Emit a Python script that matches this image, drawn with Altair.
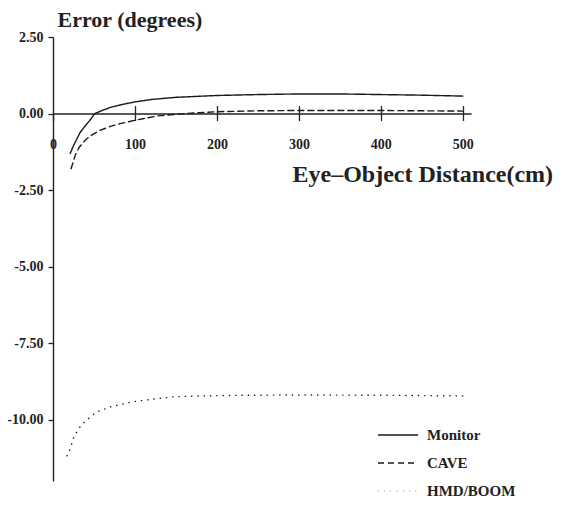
import altair as alt
import pandas as pd

series_names = ["Monitor", "CAVE", "HMD/BOOM"]

monitor_x = [21, 25, 33, 40, 45, 51, 60, 70, 85, 100, 120, 150, 200, 250, 300, 350, 400, 450, 500]
monitor_y = [-1.3, -1.05, -0.62, -0.38, -0.22, 0.0, 0.1, 0.2, 0.3, 0.38, 0.46, 0.53, 0.59, 0.62, 0.64, 0.64, 0.62, 0.6, 0.57]

cave_x = [22, 25, 27, 32, 39, 45, 57, 70, 82, 100, 127, 160, 200, 250, 300, 350, 400, 450, 500]
cave_y = [-1.8, -1.55, -1.37, -1.1, -0.88, -0.74, -0.55, -0.42, -0.33, -0.22, -0.08, 0.0, 0.06, 0.09, 0.1, 0.1, 0.1, 0.09, 0.08]

hmd_x = [17, 21, 25, 29, 33, 40, 46, 53, 60, 70, 82, 98, 127, 147, 180, 236, 300, 400, 500]
hmd_y = [-11.18, -10.95, -10.6, -10.4, -10.23, -10.03, -9.9, -9.74, -9.68, -9.58, -9.5, -9.41, -9.31, -9.25, -9.22, -9.2, -9.19, -9.2, -9.22]

x_ticks = [0, 100, 200, 300, 400, 500]
y_ticks = [2.5, 0, -2.5, -5, -7.5, -10]

rows = []
for name, xs, ys in zip(series_names, [monitor_x, cave_x, hmd_x], [monitor_y, cave_y, hmd_y]):
    for i, (a, b) in enumerate(zip(xs, ys)):
        rows.append({"series": name, "x": a, "y": b, "order": i})
df = pd.DataFrame(rows)

W, H = 418, 444
YMIN, YMAX = -12, 2.5
zero_px = H * (YMAX - 0) / (YMAX - YMIN)

FONT = "Liberation Serif"

xscale = alt.Scale(domain=[0, 510], nice=False, zero=False)
yscale = alt.Scale(domain=[YMIN, YMAX], nice=False, zero=False)

lines = alt.Chart(df).mark_line(strokeWidth=1.4, strokeCap="round", color="#1a1a1a").encode(
    x=alt.X("x:Q", scale=xscale, axis=alt.Axis(
        orient="bottom", offset=-(H - zero_px), values=x_ticks,
        labelExpr="(datum.value == 0 ? '\u2002\u2002' : '\u2002') + format(datum.value, 'd')",
        grid=False, domain=True, domainColor="#222", domainWidth=1.4,
        ticks=True, tickSize=7, tickColor="#222", tickWidth=1.3,
        labelFont=FONT, labelFontWeight="bold", labelFontSize=14, labelColor="#222",
        labelPadding=17, labelFlush=False,
        title="Eye\u2013Object Distance(cm)", titleFont=FONT, titleFontWeight="bold",
        titleFontSize=24, titleColor="#222", titleX=239, titleY=68,
        titleAlign="left", titleBaseline="alphabetic")),
    y=alt.Y("y:Q", scale=yscale, axis=alt.Axis(
        values=y_ticks, grid=False, domain=True, domainColor="#222", domainWidth=1.4,
        tickSize=5, tickColor="#222", tickWidth=1.3,
        labelExpr="datum.value < 0 ? '-' + format(-datum.value, '.2f') : format(datum.value, '.2f')",
        labelFont=FONT, labelFontWeight="bold", labelFontSize=14, labelColor="#222",
        labelPadding=5, labelFlush=False,
        title="Error (degrees)", titleFont=FONT, titleFontWeight="bold", titleFontSize=22,
        titleColor="#222", titleAngle=0, titleX=4, titleY=-11,
        titleAlign="left", titleBaseline="alphabetic")),
    strokeDash=alt.StrokeDash("series:N", scale=alt.Scale(
        domain=series_names, range=[[1, 0], [6, 4], [0.3, 6]]),
        legend=alt.Legend(orient="none", legendX=324, legendY=388, title=None,
                          symbolType="stroke", symbolSize=1600, symbolStrokeWidth=1.4,
                          symbolStrokeColor="#1a1a1a",
                          labelFont=FONT, labelFontWeight="bold", labelFontSize=15,
                          labelColor="#222", labelOffset=8, rowPadding=8, clipHeight=20,
                          padding=0)),
    order="order:Q",
)

top_ticks = alt.Chart(df).mark_point(opacity=0).encode(
    x=alt.X("x:Q", scale=xscale, axis=alt.Axis(
        orient="top", offset=-zero_px, values=x_ticks[1:], labels=False,
        domain=False, grid=False, tickSize=8, tickColor="#222", tickWidth=1.3, title=None)),
)

chart = alt.layer(lines, top_ticks).resolve_axis(x="independent").properties(
    width=W, height=H,
    autosize=alt.AutoSizeParams(type="none"),
    padding={"left": 45, "top": 29, "right": 82, "bottom": 19},
    background="white",
).configure_view(stroke=None, strokeWidth=0)

chart.save("out.html", embed_options={"renderer": "svg", "actions": False})
